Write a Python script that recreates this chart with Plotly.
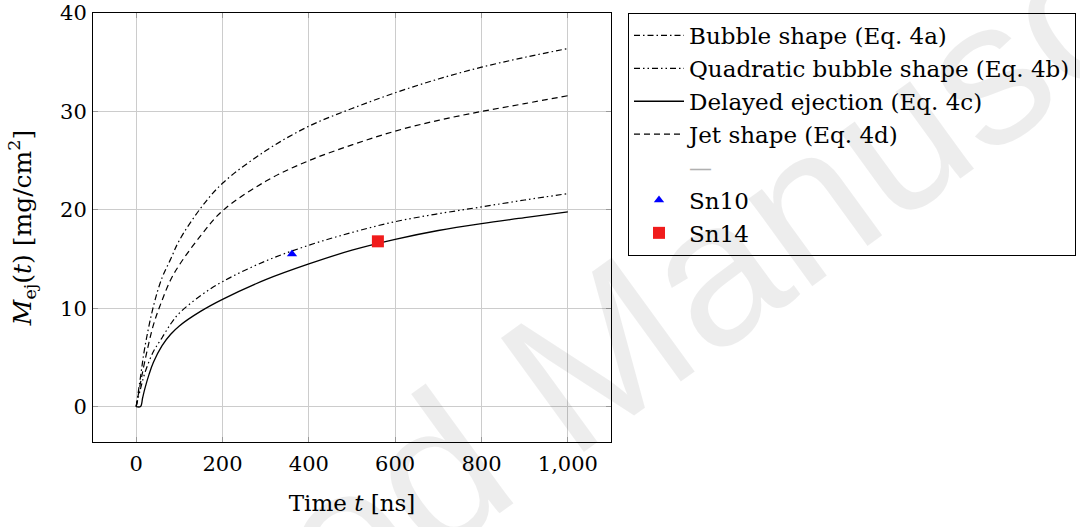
import plotly.graph_objects as go

# time grid [ns] shared by the model curves
t_model = [0, 10, 20, 40, 60, 80, 100, 150, 200, 300, 400, 500, 600, 700, 800, 900, 1000]

# ejected mass [mg/cm^2]
bubble = [0, 3.0, 6.0, 10.2, 13.1, 15.0, 16.9, 20.2, 22.7, 26.0, 28.5, 30.3, 31.9, 33.3, 34.5, 35.5, 36.4]
quad_bubble = [0, 1.8, 3.4, 5.6, 7.0, 8.4, 9.5, 11.3, 12.7, 14.8, 16.4, 17.7, 18.8, 19.6, 20.3, 21.0, 21.65]
jet = [0, 2.4, 4.6, 8.3, 10.8, 12.9, 14.4, 17.4, 19.9, 22.9, 25.0, 26.6, 28.0, 29.1, 30.0, 30.8, 31.6]

t_delayed = [0, 10, 15, 20, 30, 40, 60, 80, 100, 150, 200, 300, 400, 500, 600, 700, 800, 900, 1000]
delayed = [0, 0, 0.9, 1.8, 3.3, 4.5, 6.2, 7.35, 8.2, 9.7, 10.9, 12.9, 14.5, 15.9, 17.0, 17.9, 18.6, 19.2, 19.8]

sn10_t, sn10_m = [361], [15.5]
sn14_t, sn14_m = [560], [16.8]

FONT = "DejaVu Serif"
FS = 21

fig = go.Figure()

fig.add_trace(go.Scatter(x=t_model, y=bubble, mode='lines', name='Bubble shape (Eq. 4a)',
                         line=dict(color='black', width=1.2, dash='6px,3px,1.5px,3px', shape='spline')))
fig.add_trace(go.Scatter(x=t_model, y=quad_bubble, mode='lines', name='Quadratic bubble shape (Eq. 4b)',
                         line=dict(color='black', width=1.2, dash='6px,3px,1.5px,3px,1.5px,3px', shape='spline')))
fig.add_trace(go.Scatter(x=t_delayed, y=delayed, mode='lines', name='Delayed ejection (Eq. 4c)',
                         line=dict(color='black', width=1.3, shape='spline')))
fig.add_trace(go.Scatter(x=t_model, y=jet, mode='lines', name='Jet shape (Eq. 4d)',
                         line=dict(color='black', width=1.2, dash='6px,4px', shape='spline')))
# empty legend row
fig.add_trace(go.Scatter(x=[None], y=[None], mode='lines',
                         name="<span style='color:#b0b0b0'>—</span>",
                         line=dict(color='rgba(0,0,0,0)', width=1)))
fig.add_trace(go.Scatter(x=sn10_t, y=sn10_m, mode='markers', name='Sn10',
                         marker=dict(symbol='triangle-up', color='blue', size=9)))
fig.add_trace(go.Scatter(x=sn14_t, y=sn14_m, mode='markers', name='Sn14',
                         marker=dict(symbol='square', color='#f01c1c', size=12)))

axis_style = dict(showgrid=True, gridcolor='#cccccc', gridwidth=1,
                  showline=True, linecolor='black', linewidth=1, mirror='ticks',
                  ticks='inside', ticklen=5, tickcolor='#999999', automargin=False,
                  ticklabeloverflow='allow',
                  zeroline=False, tickfont=dict(family=FONT, size=FS, color='black'))

fig.update_xaxes(range=[-100, 1100], tickvals=[0, 200, 400, 600, 800, 1000],
                 tickformat=',', ticklabelstandoff=3,
                 title=dict(text='Time <i>t</i> [ns]', font=dict(family=FONT, size=23), standoff=19),
                 **axis_style)
fig.update_yaxes(range=[-3.6, 40.01], tickvals=[0, 10, 20, 30, 40], ticklabelstandoff=1,
                 title=dict(text='<i>M</i><sub>ej</sub>(<i>t</i>) [mg/cm<sup>2</sup>]',
                            font=dict(family=FONT, size=25), standoff=21),
                 **axis_style)

# faint watermark
fig.add_annotation(text='Accepted Manuscript', xref='paper', yref='paper',
                   x=0.911, y=0.15, xanchor='center', yanchor='middle',
                   showarrow=False, textangle=-36,
                   font=dict(family='Liberation Sans', size=205, color='rgba(0,0,0,0.07)'))

fig.update_layout(
    width=1080, height=527,
    margin=dict(l=93, r=469, t=13, b=85),
    paper_bgcolor='white', plot_bgcolor='white',
    font=dict(family=FONT, size=FS, color='black'),
    legend=dict(xref='container', yref='container', x=628 / 1080, y=1 - 13 / 527,
                xanchor='left', yanchor='top',
                bordercolor='black', borderwidth=1, bgcolor='rgba(255,255,255,0)',
                font=dict(family=FONT, size=23), tracegroupgap=0, itemwidth=50),
    showlegend=True,
)

# drop the default page margin so the figure sits at the window's corner
fig.write_html("out.html", config={'displayModeBar': False},
               post_script="document.body.style.margin='0';")
